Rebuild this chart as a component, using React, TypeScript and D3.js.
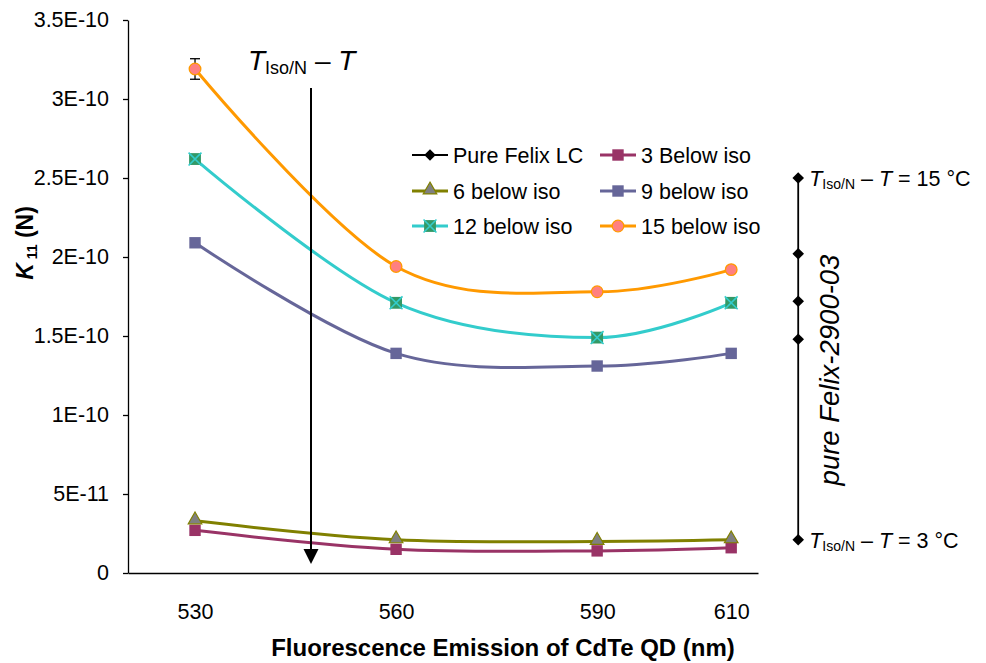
import React, { useRef, useEffect } from 'react';
import * as d3 from 'd3';

// emission wavelengths of the quantum dots (nm)
const wavelengths = [530, 560, 590, 610];
const xTickValues = [530, 560, 590, 610];

// K11 (N) for each temperature below the iso point
const below3 = [2.7e-11, 1.5e-11, 1.4e-11, 1.6e-11];
const below6 = [3.3e-11, 2.1e-11, 2.0e-11, 2.1e-11];
const below9 = [2.09e-10, 1.39e-10, 1.31e-10, 1.39e-10];
const below12 = [2.62e-10, 1.71e-10, 1.49e-10, 1.71e-10];
const below15 = [3.19e-10, 1.94e-10, 1.78e-10, 1.92e-10];
const below15Err = [6.5e-12, 0, 0, 0];

// pure Felix LC, drawn as a column at the right
const pureX = 620;
const pureFelix = [2.5e-10, 2.02e-10, 1.72e-10, 1.48e-10, 2.1e-11];

const yTickValues = [0, 5e-11, 1e-10, 1.5e-10, 2e-10, 2.5e-10, 3e-10, 3.5e-10];
const yTickLabels = ['0', '5E-11', '1E-10', '1.5E-10', '2E-10', '2.5E-10', '3E-10', '3.5E-10'];

const FONT = '"Liberation Sans", Arial, sans-serif';

const App = () => {
  const ref = useRef(null);

  useEffect(() => {
    const width = 986;
    const height = 663;
    const svg = d3.select(ref.current);
    svg.selectAll('*').remove();
    svg.attr('width', width).attr('height', height).style('font-family', FONT);

    const x = d3.scaleLinear().domain([520, 614]).range([128, 758]);
    const y = d3.scaleLinear().domain([0, 3.5e-10]).range([573, 20]);

    // y axis
    const yAxis = svg.append('g')
      .attr('transform', `translate(${x(520)},0)`)
      .call(d3.axisLeft(y).tickValues(yTickValues).tickSize(5).tickSizeOuter(0)
        .tickFormat((d, i) => yTickLabels[i]));
    yAxis.select('.domain').attr('stroke', '#000').attr('stroke-width', 1.3);
    yAxis.selectAll('.tick line').attr('stroke', '#000').attr('stroke-width', 1.3);
    yAxis.selectAll('.tick text').attr('x', -19).attr('font-size', 21.5)
      .attr('font-family', FONT).attr('fill', '#000');

    // x axis
    const xAxis = svg.append('g')
      .attr('transform', `translate(0,${y(0)})`)
      .call(d3.axisBottom(x).tickValues(xTickValues).tickSize(0).tickSizeOuter(0)
        .tickFormat(d3.format('d')));
    xAxis.select('.domain').attr('stroke', '#000').attr('stroke-width', 1.3);
    xAxis.selectAll('.tick text').attr('y', 31).attr('dy', '0.71em').attr('font-size', 21.5)
      .attr('font-family', FONT).attr('fill', '#000');

    // axis titles
    svg.append('text')
      .attr('x', 503).attr('y', 656)
      .attr('text-anchor', 'middle')
      .attr('font-size', 24).attr('font-weight', 'bold')
      .text('Fluorescence Emission of CdTe QD (nm)');

    const yt = svg.append('text')
      .attr('transform', 'translate(33,243) rotate(-90)')
      .attr('text-anchor', 'middle')
      .attr('font-size', 23).attr('font-weight', 'bold');
    yt.append('tspan').attr('font-style', 'italic').text('K');
    yt.append('tspan').attr('font-size', 14).attr('dy', 4).text(' 11');
    yt.append('tspan').attr('dy', -4).text(' (N)');

    const line = d3.line()
      .x((d) => x(d[0]))
      .y((d) => y(d[1]))
      .curve(d3.curveCardinal.tension(0));

    const series = [
      { name: '3 Below iso', values: below3, stroke: '#993366', fill: '#993366', mark: 'square' },
      { name: '6 below iso', values: below6, stroke: '#808000', fill: '#808080', mark: 'triangle' },
      { name: '9 below iso', values: below9, stroke: '#666699', fill: '#666699', mark: 'square' },
      { name: '12 below iso', values: below12, stroke: '#33CCCC', fill: '#339966', mark: 'xsquare' },
      { name: '15 below iso', values: below15, stroke: '#FF9900', fill: '#FF8080', mark: 'circle' },
    ];

    const drawMarker = (g, mark, fill, stroke, cx, cy) => {
      if (mark === 'square') {
        g.append('path').attr('d', d3.symbol(d3.symbolSquare, 130)())
          .attr('transform', `translate(${cx},${cy})`).attr('fill', fill);
      } else if (mark === 'triangle') {
        g.append('path').attr('d', d3.symbol(d3.symbolTriangle, 80)())
          .attr('transform', `translate(${cx},${cy - 1})`)
          .attr('fill', fill).attr('stroke', stroke).attr('stroke-width', 1.2);
      } else if (mark === 'xsquare') {
        g.append('path').attr('d', d3.symbol(d3.symbolSquare, 140)())
          .attr('transform', `translate(${cx},${cy})`).attr('fill', fill);
        g.append('path').attr('d', d3.symbol(d3.symbolX, 110)())
          .attr('transform', `translate(${cx},${cy})`)
          .attr('fill', 'none').attr('stroke', stroke).attr('stroke-width', 1.6);
      } else if (mark === 'circle') {
        g.append('circle').attr('cx', cx).attr('cy', cy).attr('r', 5.8)
          .attr('fill', fill).attr('stroke', stroke).attr('stroke-width', 1.3);
      } else if (mark === 'diamond') {
        g.append('path').attr('d', d3.symbol(d3.symbolDiamond2, 85)())
          .attr('transform', `translate(${cx},${cy})`).attr('fill', fill);
      }
    };

    // error bar on the 15 below iso series (drawn under the markers)
    const eg = svg.append('g').attr('stroke', '#000').attr('stroke-width', 1.3);
    wavelengths.forEach((w, i) => {
      const e = below15Err[i];
      if (!e) return;
      const cx = x(w);
      const y1 = y(below15[i] + e);
      const y2 = y(below15[i] - e);
      eg.append('line').attr('x1', cx).attr('x2', cx).attr('y1', y1).attr('y2', y2);
      eg.append('line').attr('x1', cx - 5).attr('x2', cx + 5).attr('y1', y1).attr('y2', y1);
      eg.append('line').attr('x1', cx - 5).attr('x2', cx + 5).attr('y1', y2).attr('y2', y2);
    });

    // series lines and markers
    series.forEach((s) => {
      const pts = wavelengths.map((w, i) => [w, s.values[i]]);
      svg.append('path')
        .attr('fill', 'none')
        .attr('stroke', s.stroke)
        .attr('stroke-width', 3)
        .attr('d', line(pts));
      const g = svg.append('g');
      pts.forEach((p) => drawMarker(g, s.mark, s.fill, s.stroke, x(p[0]), y(p[1])));
    });

    // pure Felix LC column
    svg.append('path')
      .attr('fill', 'none')
      .attr('stroke', '#000')
      .attr('stroke-width', 1.8)
      .attr('d', d3.line().x((d) => x(d[0])).y((d) => y(d[1]))(pureFelix.map((v) => [pureX, v])));
    const pg = svg.append('g');
    pureFelix.forEach((v) => drawMarker(pg, 'diamond', '#000', '#000', x(pureX), y(v)));

    const tLabel = (px, py, size, subSize, tail) => {
      const t = svg.append('text').attr('x', px).attr('y', py).attr('font-size', size);
      t.append('tspan').attr('font-style', 'italic').text('T');
      t.append('tspan').attr('font-size', subSize).attr('dy', size * 0.14).text('Iso/N');
      t.append('tspan').attr('dy', -size * 0.14).text(' \u2013 ');
      t.append('tspan').attr('font-style', 'italic').text('T');
      if (tail) t.append('tspan').text(tail);
    };
    tLabel(x(pureX) + 11, y(pureFelix[0]) + 8, 21.5, 14, ' = 15 \u00B0C');
    tLabel(x(pureX) + 11, y(pureFelix[4]) + 8, 21.5, 14, ' = 3 \u00B0C');

    svg.append('text')
      .attr('transform', `translate(839,370) rotate(-90)`)
      .attr('text-anchor', 'middle')
      .attr('font-size', 27.5).attr('font-style', 'italic')
      .text('pure Felix-2900-03');

    // temperature arrow
    tLabel(248, 70, 28, 18, '');
    svg.append('line')
      .attr('x1', 311).attr('x2', 311).attr('y1', 88).attr('y2', 550)
      .attr('stroke', '#000').attr('stroke-width', 2);
    svg.append('path')
      .attr('d', 'M303.5,549 L318.5,549 L311,564 Z')
      .attr('fill', '#000');

    // legend
    const legendCols = [412, 600];
    const legendRows = [155, 191, 226];
    const legendItems = [
      { name: 'Pure Felix LC', stroke: '#000', fill: '#000', mark: 'diamond', w: 1.8 },
      ...series.map((s) => ({ name: s.name, stroke: s.stroke, fill: s.fill, mark: s.mark, w: 3 })),
    ];
    const lg = svg.append('g');
    legendItems.forEach((it, i) => {
      const lx = legendCols[i % 2];
      const ly = legendRows[Math.floor(i / 2)];
      lg.append('line').attr('x1', lx).attr('x2', lx + 36).attr('y1', ly).attr('y2', ly)
        .attr('stroke', it.stroke).attr('stroke-width', it.w);
      drawMarker(lg, it.mark, it.fill, it.stroke, lx + 18, ly);
      lg.append('text').attr('x', lx + 41).attr('y', ly + 8)
        .attr('font-size', 21.5).text(it.name);
    });
  }, []);

  return (
    <svg ref={ref} width={986} height={663}
      style={{ position: 'absolute', left: 0, top: 0, background: '#fff' }} />
  );
};

export default App;
